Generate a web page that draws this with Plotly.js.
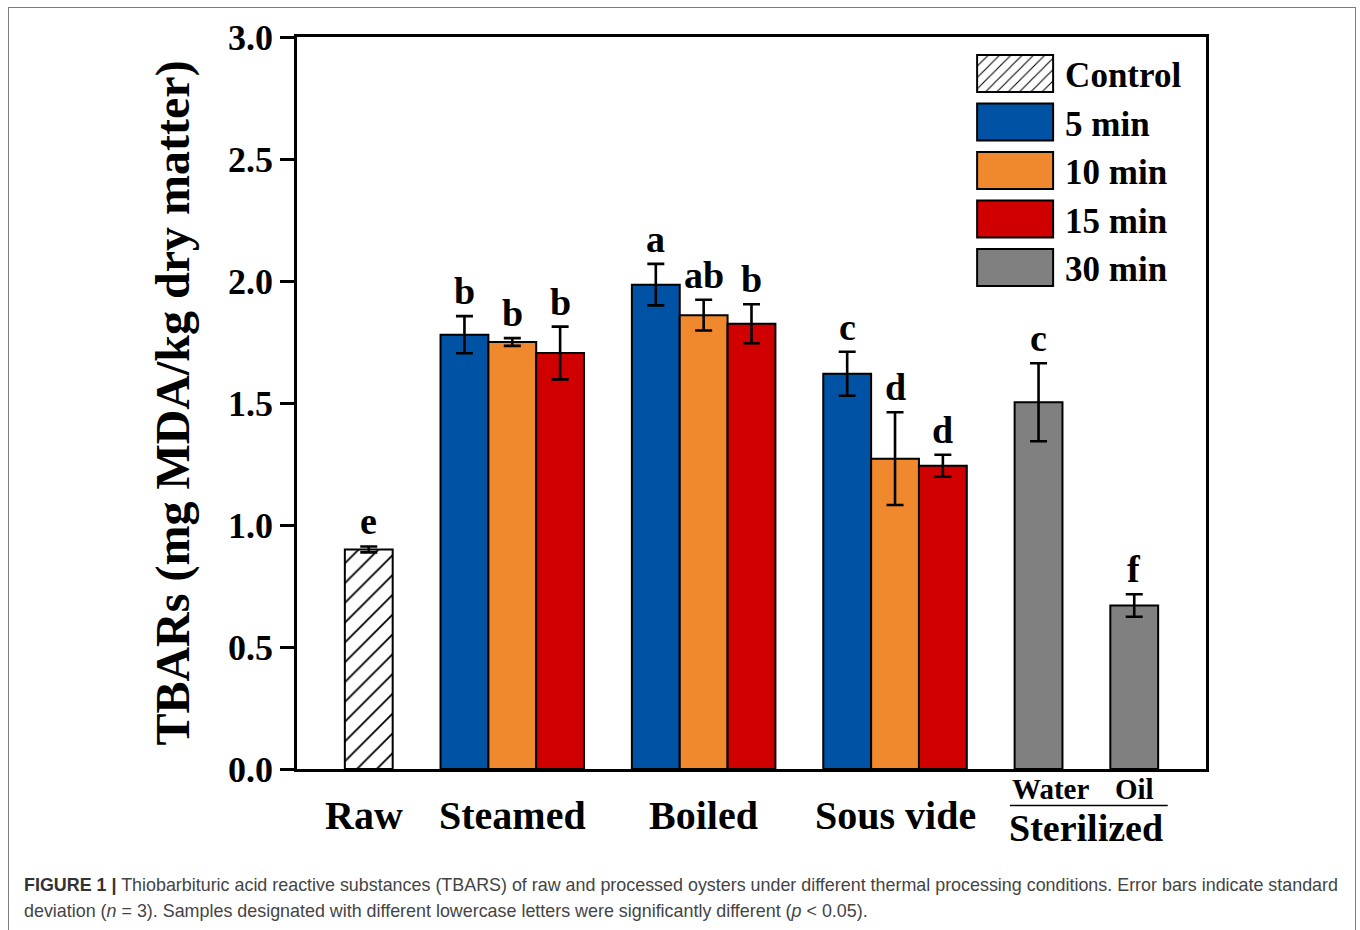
<!DOCTYPE html>
<html>
<head>
<meta charset="utf-8">
<script src="https://cdn.plot.ly/plotly-3.0.1.min.js"></script>
<style>
  html, body { margin: 0; padding: 0; background: #ffffff; }
  #frame {
    position: absolute; left: 8px; top: 7px; width: 1348px; height: 940px;
    border: 1.5px solid #7d7d7d; border-bottom: none; box-sizing: border-box;
  }
  #chart { position: absolute; left: 0; top: 0; width: 1360px; height: 930px; }
</style>
</head>
<body>
<div id="frame"></div>
<div id="chart"></div>
<script>
// ---- data -------------------------------------------------------------
const rawLabel = 'Raw';
const cookingMethods = ['Steamed', 'Boiled', 'Sous vide'];
const sterilizedMedia = ['Water', 'Oil'];
const sterilizedLabel = 'Sterilized';
const seriesNames = ['Control', '5 min', '10 min', '15 min', '30 min'];

// TBARs, mg MDA/kg dry matter (mean, SD, significance letter)
const controlMean = [0.90];
const controlSD = [0.012];
const controlLetters = ['e'];

const mean5 = [1.78, 1.985, 1.62];
const sd5 = [0.076, 0.085, 0.09];
const letters5 = ['b', 'a', 'c'];

const mean10 = [1.75, 1.86, 1.272];
const sd10 = [0.016, 0.063, 0.19];
const letters10 = ['b', 'ab', 'd'];

const mean15 = [1.705, 1.825, 1.243];
const sd15 = [0.108, 0.08, 0.045];
const letters15 = ['b', 'b', 'd'];

const mean30 = [1.503, 0.67];
const sd30 = [0.16, 0.046];
const letters30 = ['c', 'f'];

const yTicks = [0, 0.5, 1.0, 1.5, 2.0, 2.5, 3.0];

// ---- styling ------------------------------------------------------------
const SERIF = '"Liberation Serif", "Times New Roman", serif';
const SANS = '"Liberation Sans", Arial, sans-serif';
const colors = { '5 min': '#0052a4', '10 min': '#f0892d', '15 min': '#d00000', '30 min': '#808080' };

// ---- slot layout: one bar per slot, one empty slot between groups ------
const rawX = [1.5];
const groupStart = cookingMethods.map((_, g) => 3 + 4 * g);
const timedX = k => groupStart.map(s => s + k + 0.5);
const sterilX = sterilizedMedia.map((_, i) => 15 + 2 * i + 0.5);
const xMax = 19;

function barTrace(name, x, y, sd, fill, pattern) {
  const t = {
    type: 'bar', name: name, x: x, y: y, width: 1,
    marker: { color: fill, line: { color: '#000', width: 2 } },
    error_y: { type: 'data', array: sd, visible: true, color: '#000', thickness: 2.6, width: 8.5 },
    hoverinfo: 'y+name'
  };
  if (pattern) t.marker.pattern = pattern;
  return t;
}

const traces = [
  barTrace(seriesNames[0], rawX, controlMean, controlSD, '#ffffff',
    { shape: '/', fgcolor: '#000', bgcolor: '#ffffff', size: 14, solidity: 0.13 }),
  barTrace(seriesNames[1], timedX(0), mean5, sd5, colors['5 min']),
  barTrace(seriesNames[2], timedX(1), mean10, sd10, colors['10 min']),
  barTrace(seriesNames[3], timedX(2), mean15, sd15, colors['15 min']),
  barTrace(seriesNames[4], sterilX, mean30, sd30, colors['30 min'])
];

// significance letters sit just above each error bar
const letterSets = [
  [rawX, controlMean, controlSD, controlLetters],
  [timedX(0), mean5, sd5, letters5],
  [timedX(1), mean10, sd10, letters10],
  [timedX(2), mean15, sd15, letters15],
  [sterilX, mean30, sd30, letters30]
];
const annotations = [];
letterSets.forEach(([xs, ms, ss, ls]) => {
  xs.forEach((x, i) => annotations.push({
    x: x, y: ms[i] + ss[i], xref: 'x', yref: 'y', text: ls[i],
    showarrow: false, yanchor: 'bottom', yshift: 2,
    font: { family: SERIF, size: 38, weight: 700, color: '#000' }
  }));
});

// category labels under the axis
const catFont = { family: SERIF, size: 40, weight: 700, color: '#000' };
annotations.push({ x: rawX[0], y: -0.063, xref: 'x', yref: 'paper', text: rawLabel,
  showarrow: false, yanchor: 'middle', xshift: -5, font: catFont });
cookingMethods.forEach((m, g) => annotations.push({
  x: groupStart[g] + 1.5, y: -0.063, xref: 'x', yref: 'paper', text: m,
  showarrow: false, yanchor: 'middle', font: catFont
}));
sterilizedMedia.forEach((m, i) => annotations.push({
  x: sterilX[i], y: -0.027, xref: 'x', yref: 'paper', text: m,
  showarrow: false, yanchor: 'middle', xshift: i === 0 ? 12 : 0,
  font: { family: SERIF, size: 29, weight: 700, color: '#000' }
}));
annotations.push({ x: (sterilX[0] + sterilX[1]) / 2, y: -0.081, xref: 'x', yref: 'paper',
  text: sterilizedLabel, showarrow: false, yanchor: 'middle',
  font: { family: SERIF, size: 38, weight: 700, color: '#000' } });

// figure caption
const capFont = { family: SANS, size: 17.9, color: '#444' };
annotations.push({ x: -0.3025, y: -0.1585, xref: 'paper', yref: 'paper', xanchor: 'left', yanchor: 'middle',
  showarrow: false, align: 'left', font: capFont,
  text: '<b><span style="color:#333">FIGURE 1 |</span></b> Thiobarbituric acid reactive substances (TBARS) of raw and processed oysters under different thermal processing conditions. Error bars indicate standard' });
annotations.push({ x: -0.3025, y: -0.194, xref: 'paper', yref: 'paper', xanchor: 'left', yanchor: 'middle',
  showarrow: false, align: 'left', font: capFont,
  text: 'deviation (<i>n</i> = 3). Samples designated with different lowercase letters were significantly different (<i>p</i> &lt; 0.05).' });

const layout = {
  width: 1360, height: 930,
  margin: { l: 297, r: 154, t: 37, b: 161 },
  paper_bgcolor: 'rgba(0,0,0,0)', plot_bgcolor: 'rgba(0,0,0,0)',
  font: { family: SERIF, color: '#000' },
  barmode: 'overlay',
  showlegend: true,
  legend: {
    x: 0.735, y: 0.99, xanchor: 'left', yanchor: 'top',
    bgcolor: 'rgba(0,0,0,0)', borderwidth: 0, itemwidth: 90,
    font: { family: SERIF, size: 35, weight: 700, color: '#000' },
    traceorder: 'normal'
  },
  xaxis: {
    range: [0, xMax], showgrid: false, zeroline: false, showticklabels: false,
    ticks: '', showline: true, linecolor: '#000', linewidth: 2.6, mirror: true, fixedrange: true
  },
  yaxis: {
    range: [0, 3.0], tickvals: yTicks, tickformat: '.1f', ticks: 'outside', ticklen: 14,
    tickwidth: 2.6, tickcolor: '#000', showgrid: false, zeroline: false,
    showline: true, linecolor: '#000', linewidth: 2.6, mirror: true,
    tickfont: { family: SERIF, size: 36, weight: 700, color: '#000' },
    title: { text: 'TBARs (mg MDA/kg dry matter)', standoff: 24,
      font: { family: SERIF, size: 48, weight: 700, color: '#000' } },
    automargin: false, fixedrange: true
  },
  shapes: [{
    type: 'line', xref: 'x', yref: 'paper',
    x0: sterilX[0] - 0.6, x1: sterilX[1] + 0.7, y0: -0.05, y1: -0.05,
    line: { color: '#000', width: 1.5 }
  }],
  annotations: annotations
};

// enlarge the legend swatches to wide boxes sitting just left of their labels
function widenLegendSwatches() {
  document.querySelectorAll('#chart .legend .traces').forEach(item => {
    const text = item.querySelector('text.legendtext');
    if (!text) return;
    const textLeft = text.getBoundingClientRect().left;
    item.querySelectorAll('.legendpoints path').forEach(p => {
      const ctm = p.getScreenCTM();
      if (!ctm) return;
      const right = (textLeft - 12 - ctm.e) / ctm.a;
      const left = right - 76;
      p.setAttribute('d', 'M' + left + ',-18.5H' + right + 'V18.5H' + left + 'Z');
    });
  });
}

Plotly.newPlot('chart', traces, layout, { displayModeBar: false, responsive: false })
  .then(widenLegendSwatches);
</script>
</body>
</html>
